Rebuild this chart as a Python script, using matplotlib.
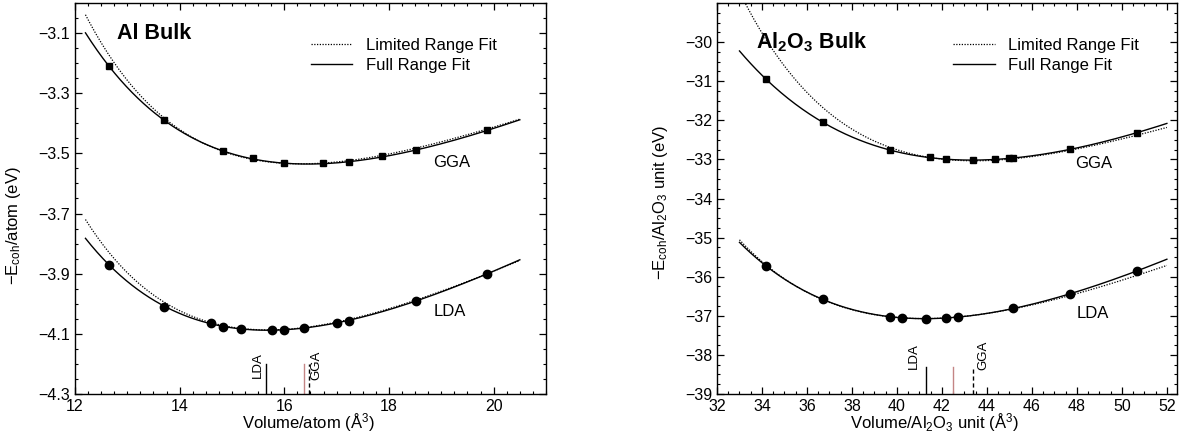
import numpy as np
import matplotlib
matplotlib.use("Agg")
import matplotlib.pyplot as plt
from matplotlib.ticker import MultipleLocator

plt.rcParams['font.family'] = ['Liberation Sans', 'DejaVu Sans']
plt.rcParams['mathtext.fontset'] = 'custom'
plt.rcParams['mathtext.rm'] = 'Liberation Sans'
plt.rcParams['mathtext.it'] = 'Liberation Sans:italic'
plt.rcParams['mathtext.bf'] = 'Liberation Sans:bold'

# Al bulk: volume per atom (A^3) and -E_coh per atom (eV)
al_gga_v = [12.65, 13.70, 14.83, 15.41, 16.00, 16.74, 17.24, 17.87, 18.52, 19.88]
al_gga_e = [-3.210, -3.390, -3.493, -3.517, -3.533, -3.533, -3.530, -3.510, -3.490, -3.423]
al_lda_v = [12.65, 13.70, 14.60, 14.83, 15.17, 15.77, 16.00, 16.37, 17.00, 17.24, 18.52, 19.88]
al_lda_e = [-3.870, -4.010, -4.063, -4.077, -4.083, -4.087, -4.087, -4.080, -4.063, -4.057, -3.990, -3.900]

# Al2O3 bulk: volume per formula unit (A^3) and -E_coh per unit (eV)
alo_gga_v = [34.18, 36.72, 39.70, 41.49, 42.20, 43.36, 44.34, 44.96, 45.18, 47.68, 50.66]
alo_gga_e = [-30.95, -32.05, -32.77, -32.95, -33.00, -33.02, -33.00, -32.97, -32.97, -32.74, -32.32]
alo_lda_v = [34.18, 36.72, 39.70, 40.24, 41.27, 42.20, 42.70, 45.14, 47.68, 50.66]
alo_lda_e = [-35.73, -36.57, -37.03, -37.06, -37.07, -37.06, -37.04, -36.81, -36.43, -35.86]

# limited range fit curves, sampled along the volume axis
al_gga_lim_v = [12.2, 12.65, 13.70, 14.83, 16.00, 18.00, 20.50]
al_gga_lim_e = [-3.033, -3.183, -3.380, -3.490, -3.533, -3.505, -3.385]
al_lda_lim_v = [12.2, 12.65, 13.70, 14.60, 16.00, 18.52, 20.50]
al_lda_lim_e = [-3.717, -3.833, -3.997, -4.058, -4.085, -3.990, -3.855]
alo_gga_lim_v = [33.15, 34.18, 36.72, 39.70, 43.36, 47.68, 50.66, 52.00]
alo_gga_lim_e = [-29.00, -29.75, -31.74, -32.75, -33.00, -32.75, -32.38, -32.20]
alo_lda_lim_v = [33.00, 34.18, 36.72, 39.70, 43.00, 45.14, 47.68, 50.66, 52.00]
alo_lda_lim_e = [-35.05, -35.72, -36.57, -37.03, -37.03, -36.83, -36.47, -35.95, -35.73]

# equilibrium volumes: LDA, experiment, GGA
al_v0 = [15.65, 16.38, 16.47]
alo_v0 = [41.27, 42.47, 43.36]


def bm_curve(v, e, vgrid):
    # Birch-Murnaghan form: E is a cubic polynomial in V^(-2/3)
    c = np.polyfit(np.asarray(v) ** (-2.0 / 3.0), np.asarray(e), 3)
    return np.polyval(c, vgrid ** (-2.0 / 3.0))


def draw_set(ax, v, e, lv, le, vgrid, marker, ms):
    ax.plot(vgrid, bm_curve(lv, le, vgrid), color='black', lw=0.9, ls=(0, (1, 1.2)))
    ax.plot(vgrid, bm_curve(v, e, vgrid), color='black', lw=1.0)
    ax.plot(v, e, ls='none', marker=marker, ms=ms, color='black')


def style_axes(ax):
    ax.tick_params(which='both', direction='in', top=True, right=True, labelsize=11.5)
    ax.tick_params(which='major', length=5, width=0.9)
    ax.tick_params(which='minor', length=2.5, width=0.8)
    for s in ax.spines.values():
        s.set_linewidth(1.0)


def draw_v0(ax, v0, y0, y1, lab_y, dx):
    ax.plot([v0[0], v0[0]], [y0, y1], color='black', lw=1.0)
    ax.plot([v0[1], v0[1]], [y0, y1], color='#c48585', lw=1.0)
    ax.plot([v0[2], v0[2]], [y0, y1], color='black', lw=1.0, ls=(0, (3, 2)))
    ax.text(v0[0] - dx, lab_y, 'LDA', rotation=90, ha='center', va='center', fontsize=9.5)
    ax.text(v0[2] + dx, lab_y, 'GGA', rotation=90, ha='center', va='center', fontsize=9.5)


fig = plt.figure(figsize=(11.87, 4.40), dpi=100)
ax1 = fig.add_axes([75 / 1187, 46 / 440, 471 / 1187, 391 / 440])
ax2 = fig.add_axes([717 / 1187, 46 / 440, 460 / 1187, 391 / 440])

# Al bulk
vg = np.linspace(12.2, 20.5, 300)
draw_set(ax1, al_gga_v, al_gga_e, al_gga_lim_v, al_gga_lim_e, vg, 's', 4.5)
draw_set(ax1, al_lda_v, al_lda_e, al_lda_lim_v, al_lda_lim_e, vg, 'o', 6)
draw_v0(ax1, al_v0, -4.3, -4.2, -4.205, 0.15)
ax1.set_xlim(12, 21)
ax1.set_ylim(-4.3, -3.0)
ax1.xaxis.set_major_locator(MultipleLocator(2))
ax1.xaxis.set_minor_locator(MultipleLocator(0.25))
ax1.set_yticks(np.arange(-4.3, -3.0, 0.2))
ax1.set_yticklabels(['\u22124.3', '\u22124.1', '\u22123.9', '\u22123.7', '\u22123.5', '\u22123.3', '\u22123.1'])
ax1.yaxis.set_minor_locator(MultipleLocator(0.05))
style_axes(ax1)
ax1.text(12.8, -3.1, 'Al Bulk', fontsize=15.5, fontweight='bold', va='center')
ax1.text(19.2, -3.53, 'GGA', fontsize=12, ha='center', va='center')
ax1.text(19.17, -4.027, 'LDA', fontsize=12, ha='center', va='center')
ax1.set_xlabel('Volume/atom (\u00c5$^3$)', fontsize=12)
ax1.set_ylabel('\u2212E$_{\\rm coh}$/atom (eV)', fontsize=12)
ax1.xaxis.set_label_coords(0.495, -0.045)
ax1.yaxis.set_label_coords(-0.11, 0.43)

# Al2O3 bulk
vg2 = np.linspace(33.0, 52.0, 300)
draw_set(ax2, alo_gga_v, alo_gga_e, alo_gga_lim_v, alo_gga_lim_e, vg2, 's', 4.5)
draw_set(ax2, alo_lda_v, alo_lda_e, alo_lda_lim_v, alo_lda_lim_e, vg2, 'o', 6)
draw_v0(ax2, alo_v0, -39, -38.3, -38.02, 0.5)
ax2.set_xlim(32, 52.45)
ax2.set_ylim(-39, -29)
ax2.xaxis.set_major_locator(MultipleLocator(2))
ax2.xaxis.set_minor_locator(MultipleLocator(0.5))
ax2.set_yticks(np.arange(-39, -29.5, 1))
ax2.set_yticklabels(['\u2212%d' % k for k in range(39, 29, -1)])
ax2.yaxis.set_minor_locator(MultipleLocator(0.25))
style_axes(ax2)
ax2.text(33.75, -30.0, 'Al$_\\mathbf{2}$O$_\\mathbf{3}$ Bulk', fontsize=15.5, fontweight='bold', va='center')
ax2.text(48.75, -33.1, 'GGA', fontsize=12, ha='center', va='center')
ax2.text(48.7, -36.93, 'LDA', fontsize=12, ha='center', va='center')
ax2.set_xlabel('Volume/Al$_2$O$_3$ unit (\u00c5$^3$)', fontsize=12)
ax2.set_ylabel('\u2212E$_{\\rm coh}$/Al$_2$O$_3$ unit (eV)', fontsize=12)
ax2.xaxis.set_label_coords(0.474, -0.045)
ax2.yaxis.set_label_coords(-0.102, 0.49)

# legends
for ax, x0 in ((ax1, 0.50), (ax2, 0.513)):
    h1, = ax.plot([], [], color='black', lw=0.9, ls=(0, (1, 1.2)))
    h2, = ax.plot([], [], color='black', lw=1.0)
    ax.legend([h1, h2], ['Limited Range Fit', 'Full Range Fit'], loc='upper left',
              bbox_to_anchor=(x0, 0.91), frameon=False, fontsize=12, borderpad=0,
              borderaxespad=0, handlelength=2.5, handletextpad=0.8, labelspacing=0.3)

fig.savefig('out.png', dpi=100)
